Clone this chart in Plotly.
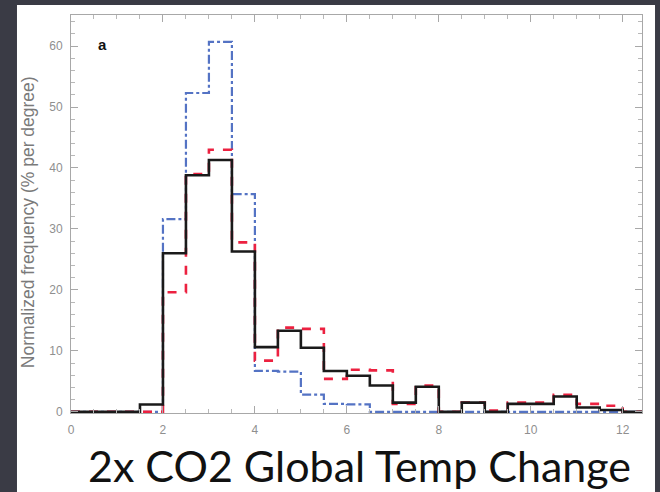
import plotly.graph_objects as go

# Bin edges (degrees C), 0.5-degree bins from 0 to 12.5
bin_edges = [i * 0.5 for i in range(26)]

# Normalized frequency (% per degree) per bin
freq_black = [0, 0, 0, 1.2, 26, 38.8, 41.3, 26.3, 10.6, 13.3, 10.5, 6.7, 5.9,
              4.3, 1.5, 4.1, 0, 1.5, 0, 1.3, 1.3, 2.5, 0.7, 0.3, 0]
freq_red = [0, 0, 0, 0, 19.6, 39, 43, 27.8, 8.4, 13.8, 13.6, 5.4, 6.9,
            6.8, 1.3, 4.3, 0, 1.5, 0.2, 1.5, 1.5, 2.8, 1.3, 1.0, 0]
freq_blue = [0, 0, 0, 0, 31.6, 52.3, 60.7, 35.7, 6.7, 6.6, 2.8, 1.3, 1.2,
             0, 0, 0, 0, 0, 0, 0, 0, 0, 0, 0, 0]

x_ticks = [0, 2, 4, 6, 8, 10, 12]
y_ticks = [0, 10, 20, 30, 40, 50, 60]


def steps(values):
    return bin_edges, values + [values[-1]]


fig = go.Figure()
for vals, color, dash, width in [
    (freq_blue, "#5473c4", "dashdot", 2.2),
    (freq_red, "#ec2140", "dash", 2.6),
    (freq_black, "#1a1a1a", "solid", 2.6),
]:
    xs, ys = steps(vals)
    fig.add_trace(go.Scatter(
        x=xs, y=ys, mode="lines", line_shape="hv",
        line=dict(color=color, dash=dash, width=width),
        showlegend=False, hoverinfo="skip",
    ))

axis_common = dict(
    showgrid=False, zeroline=False, showline=True, linecolor="#a8a8a8",
    linewidth=1, mirror="allticks", ticks="inside", ticklen=7,
    tickcolor="#a8a8a8", tickfont=dict(family="Liberation Sans", size=12, color="#8f8f8f"),
)

fig.update_xaxes(range=[0, 12.42], tickvals=x_ticks, ticklabelstandoff=6,
                 minor=dict(dtick=0.5, ticks="inside", ticklen=4, tickcolor="#b8b8b8"),
                 **axis_common)
fig.update_yaxes(range=[-0.2, 65.1], tickvals=y_ticks, ticklabelstandoff=5,
                 minor=dict(dtick=2, ticks="inside", ticklen=4, tickcolor="#b8b8b8"),
                 **axis_common)

# White slide panel on dark surround
fig.add_shape(type="rect", xref="paper", yref="paper",
              x0=-0.0946, x1=1.0228, y0=-0.25, y1=1.0251,
              fillcolor="white", line=dict(width=0), layer="below")

# Vertical axis label
fig.add_annotation(text="Normalized frequency (% per degree)", xref="paper", yref="paper",
                   x=-0.075, y=0.48, textangle=-90, showarrow=False,
                   xanchor="center", yanchor="middle",
                   font=dict(family="Liberation Sans", size=17.5, color="#7a7a7a"))

fig.add_annotation(text="<b>a</b>", xref="paper", yref="paper",
                   x=0.056, y=0.925, yanchor="middle", xanchor="center",
                   showarrow=False,
                   font=dict(family="Liberation Sans", size=15, color="#111"))

fig.add_annotation(text="2x CO2 Global Temp Change", xref="paper", yref="paper",
                   x=0.506, y=-0.133, showarrow=False, yanchor="middle",
                   font=dict(family="Lato", size=43, color="#111"))

fig.update_layout(
    width=660, height=492,
    margin=dict(l=71, r=18, t=15, b=79),
    paper_bgcolor="#3a3b45", plot_bgcolor="white",
)

fig.write_html("out.html")
